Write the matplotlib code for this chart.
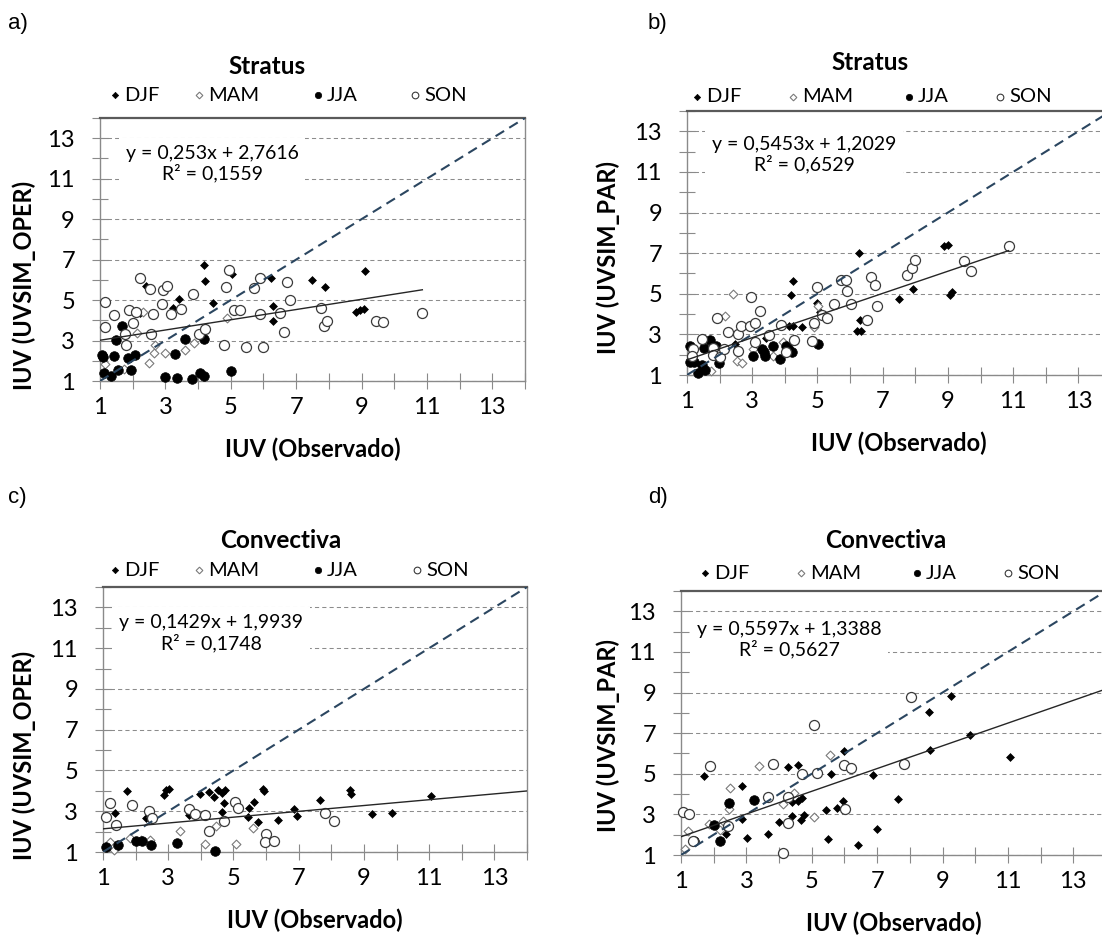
import matplotlib
matplotlib.use('Agg')
import matplotlib.pyplot as plt
from matplotlib.lines import Line2D

plt.rcParams['font.family'] = ['Lato', 'DejaVu Sans']

# ---------------- data ----------------
seasons = ['DJF', 'MAM', 'JJA', 'SON']
panel_labels = ['a)', 'b)', 'c)', 'd)']
titles = ['Stratus', 'Stratus', 'Convectiva', 'Convectiva']
ylabels = ['IUV (UVSIM_OPER)', 'IUV (UVSIM_PAR)', 'IUV (UVSIM_OPER)', 'IUV (UVSIM_PAR)']
xlabel = 'IUV (Observado)'
slopes = [0.253, 0.5453, 0.1429, 0.5597]
intercepts = [2.7616, 1.2029, 1.9939, 1.3388]
r2_values = ['0,1559', '0,6529', '0,1748', '0,5627']
eq_texts = ['y = 0,253x + 2,7616', 'y = 0,5453x + 1,2029',
            'y = 0,1429x + 1,9939', 'y = 0,5597x + 1,3388']
trend_end = [10.86, 10.86, 14.0, 14.0]
x_ticks = [1, 3, 5, 7, 9, 11, 13]
y_ticks = [1, 3, 5, 7, 9, 11, 13]

a_djf_x = [4.17, 4.22, 5.03, 6.24, 7.49, 7.87, 9.10, 4.47, 3.42, 3.24, 6.29, 6.28, 8.83, 8.95, 9.07, 2.40, 2.23]
a_djf_y = [6.75, 5.94, 6.27, 6.09, 5.98, 5.65, 6.42, 4.87, 5.07, 4.62, 4.72, 3.95, 4.43, 4.49, 4.57, 5.71, 4.38]
a_mam_x = [2.33, 2.12, 2.69, 2.66, 2.99, 2.51, 3.60, 3.89, 4.88, 1.15, 1.72]
a_mam_y = [4.41, 3.39, 2.76, 2.40, 2.40, 1.91, 2.52, 2.86, 4.13, 1.86, 1.61]
a_jja_x = [1.05, 1.08, 1.43, 1.67, 1.49, 1.87, 2.07, 1.12, 1.33, 1.55, 1.95, 3.30, 3.59, 4.17, 2.98, 3.37, 3.81, 4.06, 4.19, 5.01]
a_jja_y = [2.28, 2.20, 2.22, 3.72, 3.04, 2.12, 2.27, 1.41, 1.23, 1.53, 1.53, 2.35, 3.09, 3.08, 1.18, 1.15, 1.10, 1.41, 1.23, 1.49]
a_son_x = [1.15, 1.15, 1.44, 1.77, 1.78, 1.90, 2.00, 2.10, 2.23, 2.53, 2.56, 2.62, 2.89, 2.92, 3.04, 3.17, 3.49, 3.83, 4.03, 4.21,
           4.78, 4.86, 4.96, 5.09, 5.27, 5.47, 5.71, 5.88, 5.90, 5.99, 6.50, 6.62, 6.72, 6.80, 7.76, 7.84, 7.95, 9.45, 9.66, 10.86]
a_son_y = [4.90, 3.65, 4.25, 3.32, 2.78, 4.49, 3.88, 4.39, 6.11, 5.56, 3.31, 4.29, 4.82, 5.51, 5.71, 4.31, 4.58, 5.28, 3.32, 3.59,
           2.76, 5.65, 6.50, 4.53, 4.49, 2.66, 5.61, 6.11, 4.31, 2.66, 4.36, 3.42, 5.89, 4.99, 4.61, 3.72, 3.98, 3.97, 3.92, 4.36]

b_djf_x = [6.26, 8.87, 8.99, 4.25, 4.19, 4.98, 5.09, 4.25, 4.14, 4.52, 6.31, 6.21, 6.34, 7.49, 7.93, 9.12, 9.07, 2.48, 3.42]
b_djf_y = [7.00, 7.33, 7.41, 5.64, 4.95, 4.57, 4.10, 3.43, 3.43, 3.34, 3.69, 3.15, 3.15, 4.75, 5.23, 5.11, 4.92, 2.54, 2.82]
b_mam_x = [2.40, 2.17, 2.53, 2.69, 1.75, 3.01, 3.93, 3.63, 4.90, 5.03]
b_mam_y = [5.00, 3.89, 1.67, 1.59, 1.18, 2.28, 2.61, 1.92, 3.34, 4.38]
b_jja_x = [1.08, 1.08, 1.20, 1.33, 1.46, 1.56, 1.53, 1.72, 1.90, 1.99, 3.01, 3.30, 3.35, 3.40, 3.64, 3.86, 4.03, 4.10, 4.22, 5.03]
b_jja_y = [2.41, 1.62, 1.62, 1.10, 1.51, 1.26, 2.33, 2.74, 2.41, 1.59, 1.95, 2.28, 2.11, 1.92, 2.44, 1.80, 2.44, 2.33, 2.11, 2.54]
b_son_x = [1.17, 1.15, 1.46, 1.80, 1.80, 1.92, 2.02, 2.12, 2.25, 2.56, 2.56, 2.66, 2.94, 3.09, 2.97, 3.23, 3.09, 3.51, 3.88, 4.04, 4.27,
           4.83, 4.90, 4.98, 5.14, 5.29, 5.51, 5.73, 5.88, 5.90, 6.03, 6.52, 6.65, 6.75, 6.82, 7.76, 7.89, 7.98, 9.48, 9.70, 10.86]
b_son_y = [2.30, 1.92, 2.79, 2.33, 1.97, 3.80, 1.89, 2.28, 3.10, 3.02, 2.20, 3.39, 3.39, 3.56, 4.82, 4.15, 2.61, 2.97, 3.44, 2.11, 2.74,
           2.66, 3.56, 5.34, 3.93, 3.80, 4.51, 5.69, 5.69, 5.15, 4.49, 3.72, 5.82, 5.44, 4.38, 5.92, 6.26, 6.67, 6.59, 6.13, 7.33]

c_djf_x = [1.74, 1.38, 2.33, 2.88, 2.94, 3.01, 3.65, 3.96, 4.24, 4.39, 4.54, 4.64, 4.73, 4.65, 4.70, 5.46, 5.49, 5.62, 5.75, 5.92,
           5.95, 6.38, 6.86, 6.96, 7.64, 8.58, 8.60, 9.24, 9.86, 11.06]
c_djf_y = [3.98, 2.93, 2.69, 3.78, 4.03, 4.08, 2.83, 3.86, 3.95, 3.70, 4.03, 3.90, 4.03, 2.95, 3.41, 2.72, 3.18, 3.45, 2.47, 4.08,
           4.00, 2.55, 3.13, 2.75, 3.57, 4.03, 3.86, 2.88, 2.93, 3.73]
c_mam_x = [1.20, 1.35, 1.84, 2.16, 2.45, 3.35, 4.12, 4.47, 5.07, 5.60, 2.48]
c_mam_y = [1.49, 1.11, 1.70, 1.61, 1.57, 2.03, 1.38, 2.28, 1.39, 2.18, 2.72]
c_jja_x = [1.10, 1.46, 2.01, 2.20, 2.48, 3.27, 4.44]
c_jja_y = [1.23, 1.36, 1.54, 1.54, 1.36, 1.46, 1.07]
c_son_x = [1.10, 1.22, 1.41, 1.89, 2.40, 2.50, 3.65, 3.82, 4.14, 4.26, 4.70, 5.06, 5.14, 6.00, 5.96, 6.23, 7.81, 8.07]
c_son_y = [2.72, 3.41, 2.31, 3.32, 3.01, 2.69, 3.13, 2.88, 2.83, 2.03, 2.52, 3.45, 3.18, 1.87, 1.51, 1.54, 2.91, 2.52]

d_djf_x = [1.71, 2.86, 2.38, 2.88, 3.01, 3.67, 4.01, 4.26, 4.57, 4.38, 4.59, 4.71, 4.38, 4.66, 4.76, 5.45, 5.51, 5.59, 5.76, 5.96,
           5.98, 6.40, 6.88, 6.98, 7.63, 8.58, 8.61, 9.25, 9.84, 11.06]
d_djf_y = [4.87, 4.42, 2.02, 2.78, 1.86, 2.02, 2.61, 5.33, 5.44, 3.63, 3.66, 3.83, 2.92, 2.73, 2.97, 3.22, 1.79, 5.00, 3.30, 3.68,
           6.10, 1.49, 4.95, 2.28, 3.75, 8.04, 6.18, 8.81, 6.89, 5.85]
d_mam_x = [1.12, 1.22, 1.87, 2.19, 2.27, 2.50, 2.48, 3.39, 4.11, 4.47, 5.08, 5.56]
d_mam_y = [1.30, 2.18, 2.53, 2.23, 2.69, 4.29, 3.27, 5.36, 3.50, 4.04, 2.89, 5.93]
d_jja_x = [1.40, 2.01, 2.19, 2.48, 3.24]
d_jja_y = [1.71, 2.48, 1.71, 3.58, 3.71]
d_son_x = [1.07, 1.25, 1.38, 1.89, 2.43, 3.67, 3.80, 4.11, 4.26, 4.26, 4.69, 5.08, 5.15, 5.99, 6.02, 6.20, 7.82, 8.05]
d_son_y = [3.14, 3.02, 1.71, 5.36, 2.45, 3.85, 5.47, 1.08, 2.60, 3.85, 4.98, 7.38, 5.03, 5.41, 3.27, 5.28, 5.47, 8.78]

panel_data = [
    [(a_djf_x, a_djf_y), (a_mam_x, a_mam_y), (a_jja_x, a_jja_y), (a_son_x, a_son_y)],
    [(b_djf_x, b_djf_y), (b_mam_x, b_mam_y), (b_jja_x, b_jja_y), (b_son_x, b_son_y)],
    [(c_djf_x, c_djf_y), (c_mam_x, c_mam_y), (c_jja_x, c_jja_y), (c_son_x, c_son_y)],
    [(d_djf_x, d_djf_y), (d_mam_x, d_mam_y), (d_jja_x, d_jja_y), (d_son_x, d_son_y)],
]

# ---------------- layout (pixels) ----------------
W, H = 1102, 938
fig = plt.figure(figsize=(W / 100, H / 100), dpi=100)

def fx(x):
    return x / W

def fy(y):
    return 1 - y / H

# left, top, right, bottom of plot areas
rects = [(100, 118, 525, 381), (687, 111, 1111, 375), (103, 587, 527, 852), (681, 591, 1106, 855)]
label_pos = [(8, 23), (648, 23), (8, 498), (648, 498)]
title_pos = [(267, 67), (870, 63), (281, 540), (886, 540)]
legend_y = [95, 97, 570, 573]
legend_mx = [[115, 199, 318, 415], [697, 793, 909, 1000], [115, 199, 318, 417], [705, 801, 917, 1008]]
eq_pos = [(212, 152, 175), (804, 143, 166), (211, 621, 645), (789, 627, 652)]
ylabel_pos = [(24, 285), (608, 257), (24, 755), (608, 735)]

# season styles
styles = [
    dict(marker='D', s=16, facecolor='black', edgecolor='black', linewidths=0.5),
    dict(marker='D', s=20, facecolor='white', edgecolor='#7a7a7a', linewidths=0.8),
    dict(marker='o', s=48, facecolor='black', edgecolor='black', linewidths=0.5),
    dict(marker='o', s=52, facecolor='white', edgecolor='#3a3a3a', linewidths=0.9),
]
leg_styles = [
    dict(marker='D', markersize=3.2, markerfacecolor='black', markeredgecolor='black', markeredgewidth=0.5),
    dict(marker='D', markersize=3.4, markerfacecolor='white', markeredgecolor='#7a7a7a', markeredgewidth=0.8),
    dict(marker='o', markersize=4.6, markerfacecolor='black', markeredgecolor='black', markeredgewidth=0.5),
    dict(marker='o', markersize=4.8, markerfacecolor='white', markeredgecolor='#3a3a3a', markeredgewidth=0.8),
]

grid_color = '#8c8c8c'
axis_color = '#8a8a8a'

for i in range(4):
    l, t, r, b = rects[i]
    ax = fig.add_axes([fx(l), fy(b), (r - l) / W, (b - t) / H])
    ax.set_xlim(1, 14)
    ax.set_ylim(1, 14)
    ax.set_xticks(x_ticks)
    ax.set_yticks(y_ticks)
    ax.set_xticks([2, 4, 6, 8, 10, 12, 14], minor=True)
    ax.set_yticks([2, 4, 6, 8, 10, 12, 14], minor=True)
    ax.tick_params(which='both', direction='inout', length=11, width=0.8, color=axis_color,
                   labelsize=17, labelcolor='black')
    ax.tick_params(axis='x', which='major', pad=6)
    ax.tick_params(axis='y', which='major', pad=12.5)
    ax.set_axisbelow(True)
    ax.yaxis.grid(True, which='major', linestyle=(0, (4, 3)), color=grid_color, linewidth=0.75)
    for side in ['left', 'bottom', 'right']:
        ax.spines[side].set_color(axis_color)
        ax.spines[side].set_linewidth(1.0)
    ax.spines['top'].set_color('#5a5a5a')
    ax.spines['top'].set_linewidth(1.6)

    for (xs, ys), st in zip(panel_data[i], styles):
        ax.scatter(xs, ys, zorder=3, clip_on=False, **st)

    # 1:1 line
    ax.plot([1, 14], [1, 14], color='#2b4660', linewidth=1.5, linestyle=(0, (4.8, 2.9)), zorder=4)
    # trend line
    xe = trend_end[i]
    ax.plot([1, xe], [slopes[i] * 1 + intercepts[i], slopes[i] * xe + intercepts[i]],
            color='#262626', linewidth=1.0, zorder=5)

    # equation
    ex, ey1, ey2 = eq_pos[i]
    ax.text(fx(ex), fy((ey1 + ey2) / 2), eq_texts[i] + '\nR² = ' + r2_values[i],
            transform=fig.transFigure, ha='center', va='center', multialignment='center',
            fontsize=14, linespacing=1.15, zorder=2,
            bbox=dict(facecolor='white', edgecolor='none', boxstyle='square,pad=0.35'))

    # titles and labels
    fig.text(fx(title_pos[i][0]), fy(title_pos[i][1]), titles[i], ha='center', va='center',
             fontsize=17.5, fontweight='bold')
    fig.text(fx(label_pos[i][0]), fy(label_pos[i][1]), panel_labels[i], ha='left', va='center',
             fontsize=16, family=['Liberation Sans', 'DejaVu Sans'])
    fig.text(fx((l + r) / 2), fy(b + 68), xlabel, ha='center', va='center', fontsize=17, fontweight='bold')
    fig.text(fx(ylabel_pos[i][0]), fy(ylabel_pos[i][1]), ylabels[i], ha='center', va='center',
             rotation=90, fontsize=17, fontweight='bold')

    # legend (manual, one entry per season)
    for k in range(4):
        mx = legend_mx[i][k]
        fig.add_artist(Line2D([fx(mx)], [fy(legend_y[i])], transform=fig.transFigure,
                              linestyle='none', **leg_styles[k]))
        fig.text(fx(mx + 9), fy(legend_y[i]), seasons[k], ha='left', va='center', fontsize=14.5)

fig.savefig('out.png', dpi=100)
